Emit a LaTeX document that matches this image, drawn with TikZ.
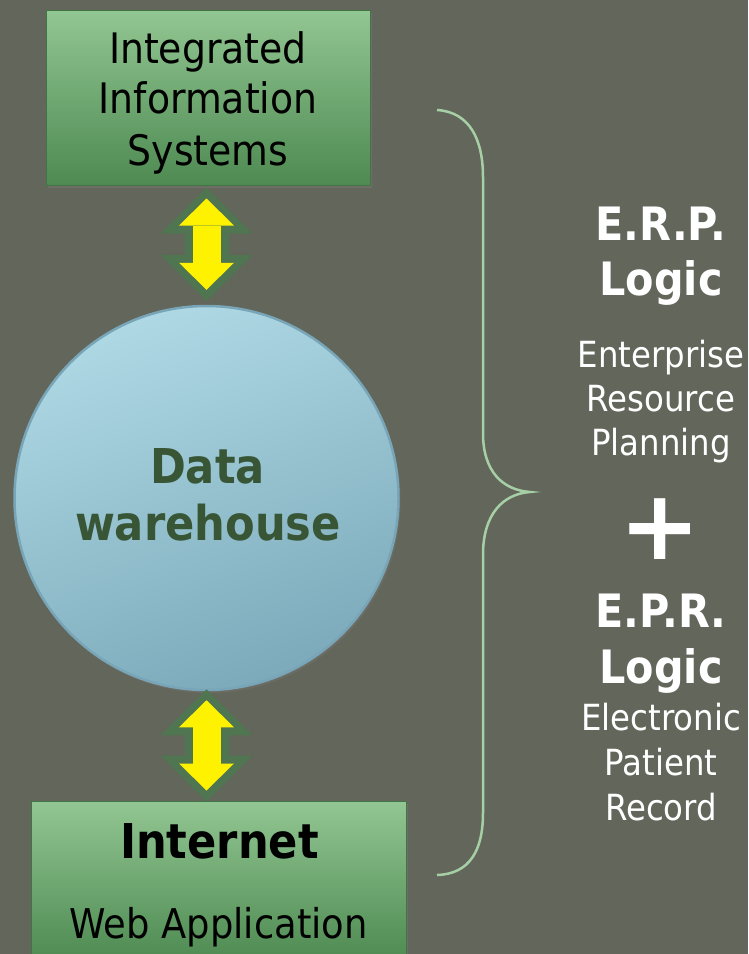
\documentclass[tikz,border=0pt]{standalone}
\usepackage{fontspec}
\setmainfont{DejaVu Sans}[FakeStretch=0.9]
\newfontfamily\plusfont{DejaVu Sans}
\usepackage{tikz}
\usetikzlibrary{arrows.meta,shadows}
\definecolor{bg}{RGB}{99,102,90}
\definecolor{boxtop}{RGB}{146,198,146}
\definecolor{boxbot}{RGB}{78,138,82}
\definecolor{rim}{RGB}{79,117,81}
\definecolor{balltop}{RGB}{174,216,228}
\definecolor{ballbot}{RGB}{124,170,186}
\definecolor{ballrim}{RGB}{120,166,184}
\definecolor{dwtext}{RGB}{56,86,54}
\definecolor{bracecol}{RGB}{166,207,166}

\begin{document}
\begin{tikzpicture}[x=1pt,y=-1pt,
    greenbox/.style={rectangle,draw=boxbot!85!black,line width=1pt,top color=boxtop,bottom color=boxbot,
      drop shadow={opacity=0.35,shadow xshift=2pt,shadow yshift=-3pt}},
    ball/.style={circle,draw=ballrim,line width=2.5pt,top color=balltop,bottom color=ballbot,shading angle=20,
      drop shadow={opacity=0.3,shadow xshift=2pt,shadow yshift=-3pt}},
    rimlink/.style={draw=rim,line width=44pt,
      {Triangle[length=46pt,width=92pt,line width=0pt]}-{Triangle[length=46pt,width=92pt,line width=0pt]}},
    corelink/.style={draw=yellow,line width=28pt,
      {Triangle[length=27pt,width=55pt,line width=0pt]}-{Triangle[length=27pt,width=55pt,line width=0pt]}},
    boxtext/.style={anchor=base,inner sep=0pt,text=black,font=\fontsize{42}{50}\selectfont},
    boxhead/.style={anchor=base,inner sep=0pt,text=black,font=\bfseries\fontsize{48}{56}\selectfont},
    dwlabel/.style={anchor=base,inner sep=0pt,text=dwtext,font=\bfseries\fontsize{48}{56}\selectfont},
    headtext/.style={anchor=base,inner sep=0pt,text=white,font=\bfseries\fontsize{46}{54}\selectfont},
    subtext/.style={anchor=base,inner sep=0pt,text=white,font=\fontsize{36}{44}\selectfont}]
  \useasboundingbox (0,0) rectangle (748,954);
  \clip (0,0) rectangle (748,954);
  \fill[bg] (0,0) rectangle (748,954);

  %boxes
  \node[greenbox,minimum width=324pt,minimum height=175pt] (iis) at (208,97.5) {};
  \node[ball,minimum size=384pt] (dw) at (206.5,498) {};
  \node[greenbox,minimum width=375pt,minimum height=160pt] (web) at (218.5,881) {};

  \node[boxtext] (iis1) at (208,63) {Integrated};
  \node[boxtext] (iis2) at (208,113) {Information};
  \node[boxtext] (iis3) at (208,165) {Systems};
  \node[dwlabel] (dw1) at (207.5,483) {Data};
  \node[dwlabel] (dw2) at (208,540) {warehouse};
  \node[boxhead] (web1) at (219.5,858) {Internet};
  \node[boxtext,font=\fontsize{41}{50}\selectfont] (web2) at (218.5,938) {Web Application};

  %iis<>dw
  \draw[rimlink,shorten <=2pt,shorten >=4pt] (iis.south -| dw.center) -- (dw.north);
  \draw[corelink,shorten <=13pt,shorten >=15pt] (iis.south -| dw.center) -- (dw.north);
  %dw<>web
  \draw[rimlink,shorten <=-2pt,shorten >=-1pt] (dw.south) -- (dw.south |- web.north);
  \draw[corelink,shorten <=9pt,shorten >=10pt] (dw.south) -- (dw.south |- web.north);

  %brace
  \draw[bracecol,line width=2.5pt] (437,110) .. controls (470,112) and (483,140) .. (483,177)
    -- (483,433) .. controls (483,472) and (503,490) .. (530,492)
    .. controls (503,494) and (483,514) .. (483,555)
    -- (483,813) .. controls (483,850) and (470,874) .. (437,875);

  %right column
  \node[headtext] (erp) at (661,240) {E.R.P.};
  \node[headtext] (erpl) at (661,295) {Logic};
  \node[subtext] (erp1) at (661,367) {Enterprise};
  \node[subtext] (erp2) at (661,411) {Resource};
  \node[subtext] (erp3) at (661,455) {Planning};
  \node[inner sep=0pt,text=white,font=\plusfont\bfseries\fontsize{97}{97}\selectfont] (plus) at (660.5,529) {+};
  \node[headtext] (epr) at (661,627) {E.P.R.};
  \node[headtext] (eprl) at (661,683) {Logic};
  \node[subtext] (epr1) at (661,730) {Electronic};
  \node[subtext] (epr2) at (661,775) {Patient};
  \node[subtext] (epr3) at (661,820) {Record};
\end{tikzpicture}
\end{document}
